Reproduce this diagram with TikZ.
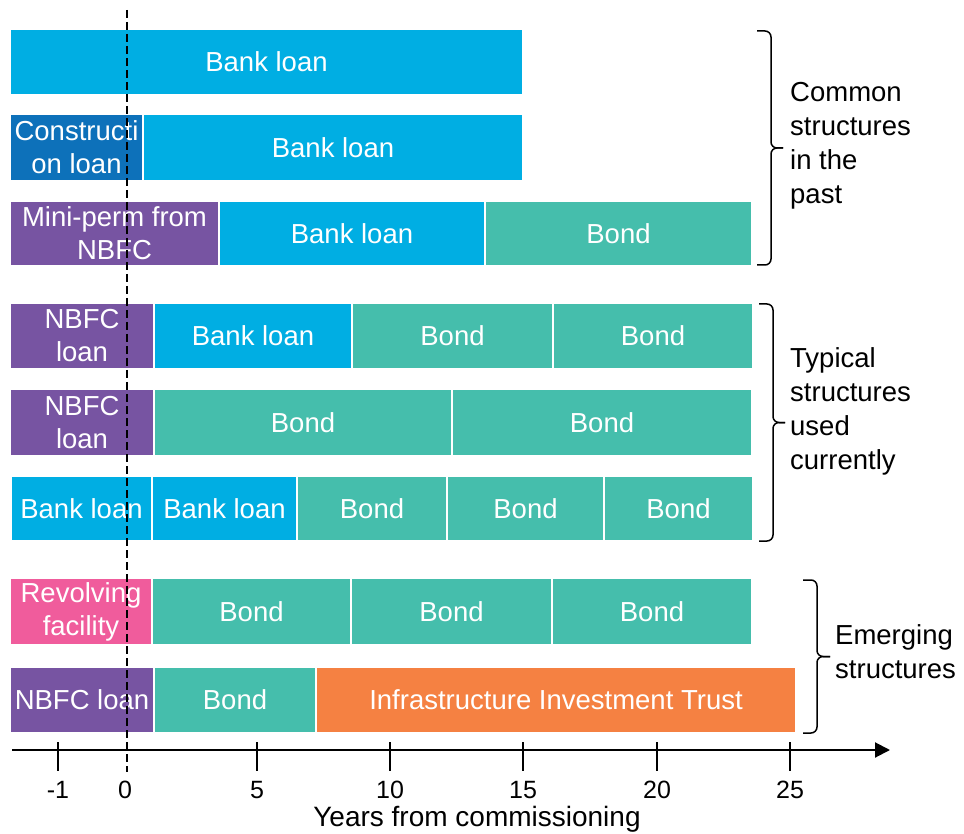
\documentclass[tikz,border=0pt]{standalone}
\usepackage{fontspec}
\setmainfont{Liberation Sans}
\usetikzlibrary{arrows.meta}
\definecolor{bankc}{HTML}{00AEE3}
\definecolor{consc}{HTML}{0D71BA}
\definecolor{purpc}{HTML}{7754A2}
\definecolor{bondc}{HTML}{45BEAC}
\definecolor{pinkc}{HTML}{F05C9C}
\definecolor{orngc}{HTML}{F58142}
\newcommand{\segbox}[7]{%
  \node[segstyle, fill=#2, minimum width={#4-#3}, minimum height={#6-#5}]
    (#1) at ({(#3+#4)/2},{(#5+#6)/2}) {#7};}
% brace: name, x of ends, x of spine, x of tip, y top, y bottom
\newcommand{\sqbrace}[6]{%
  \coordinate (#1t) at (#2,#5);
  \coordinate (#1b) at (#2,#6);
  \coordinate (#1m) at (#4,{(#5+#6)/2});
  \draw[bracestyle] (#1t) -- (#3,#5) -- (#3,{(#5+#6)/2}) -- (#1m);
  \draw[bracestyle] (#1b) -- (#3,#6) -- (#3,{(#5+#6)/2}) -- (#1m);}
\begin{document}
\begin{tikzpicture}[x=1pt,y=-1pt,
  segstyle/.style={draw=white, line width=1.5pt, inner sep=0pt, text=white,
    align=center, font=\fontsize{27.5}{33}\selectfont},
  bracestyle/.style={rounded corners=6pt, line width=1.5pt},
  grouplabel/.style={anchor=west, align=left, inner sep=0pt, font=\fontsize{27.5}{34}\selectfont},
  ticklabel/.style={inner sep=0pt, font=\fontsize{25}{30}\selectfont}]
\useasboundingbox (0,0) rectangle (964,834);
% Row 1
\segbox{r1a}{bankc}{10}{523}{29}{95}{Bank loan}
% Row 2
\segbox{r2a}{consc}{10}{143}{114}{181}{Constructi\\on loan}
\segbox{r2b}{bankc}{143}{523}{114}{181}{Bank loan}
% Row 3
\segbox{r3a}{purpc}{10}{219}{201}{266}{Mini-perm from\\NBFC}
\segbox{r3b}{bankc}{219}{485}{201}{266}{Bank loan}
\segbox{r3c}{bondc}{485}{752}{201}{266}{Bond}
% Row 4
\segbox{r4a}{purpc}{10}{154}{303}{369}{NBFC\\loan}
\segbox{r4b}{bankc}{154}{352}{303}{369}{Bank loan}
\segbox{r4c}{bondc}{352}{553}{303}{369}{Bond}
\segbox{r4d}{bondc}{553}{753}{303}{369}{Bond}
% Row 5
\segbox{r5a}{purpc}{10}{154}{389}{456}{NBFC\\loan}
\segbox{r5b}{bondc}{154}{452}{389}{456}{Bond}
\segbox{r5c}{bondc}{452}{752}{389}{456}{Bond}
% Row 6
\segbox{r6a}{bankc}{11}{152}{476}{541}{Bank loan}
\segbox{r6b}{bankc}{152}{297}{476}{541}{Bank loan}
\segbox{r6c}{bondc}{297}{447}{476}{541}{Bond}
\segbox{r6d}{bondc}{447}{604}{476}{541}{Bond}
\segbox{r6e}{bondc}{604}{753}{476}{541}{Bond}
% Row 7
\segbox{r7a}{pinkc}{10}{152}{578}{645}{Revolving\\facility}
\segbox{r7b}{bondc}{152}{351}{578}{645}{Bond}
\segbox{r7c}{bondc}{351}{552}{578}{645}{Bond}
\segbox{r7d}{bondc}{552}{752}{578}{645}{Bond}
% Row 8
\segbox{r8a}{purpc}{10}{154}{667}{733}{NBFC loan}
\segbox{r8b}{bondc}{154}{316}{667}{733}{Bond}
\segbox{r8c}{orngc}{316}{796}{667}{733}{Infrastructure Investment Trust}
% Axis
\coordinate (ax0) at (12,750);
\coordinate (ax1) at (890,750);
\draw[line width=2pt, -{Triangle[length=15pt,width=15pt]}] (ax0) -- (ax1);
\foreach \x/\l/\n in {58/-1/m1,257/5/t5,390/10/t10,523/15/t15,657/20/t20,790/25/t25}{
  \coordinate (tk\n a) at (\x,742);
  \coordinate (tk\n b) at (\x,771);
  \draw[line width=1.2pt] (tk\n a) -- (tk\n b);
  \node[ticklabel] (lab\n) at (\x,790) {\l};
}
\node[ticklabel] (labt0) at (125,790) {0};
\node[anchor=base, inner sep=0pt, font=\fontsize{28}{34}\selectfont] (xlabel) at (477,826) {Years from commissioning};
% Dashed zero line
\coordinate (d0) at (127,10);
\coordinate (d1) at (127,772);
\draw[line width=1.7pt, dash pattern=on 8pt off 4pt] (d0) -- (d1);
% Braces
\sqbrace{b1}{757}{771}{783}{31}{265}
\node[grouplabel] (g1) at (790,146) {Common\\structures\\in the\\past};
\sqbrace{b2}{759}{773}{785}{304}{541}
\node[grouplabel] (g2) at (790,411) {Typical\\structures\\used\\currently};
\sqbrace{b3}{803}{817}{830}{580}{733}
\node[grouplabel] (g3) at (835,652) {Emerging\\structures};
\end{tikzpicture}
\end{document}
